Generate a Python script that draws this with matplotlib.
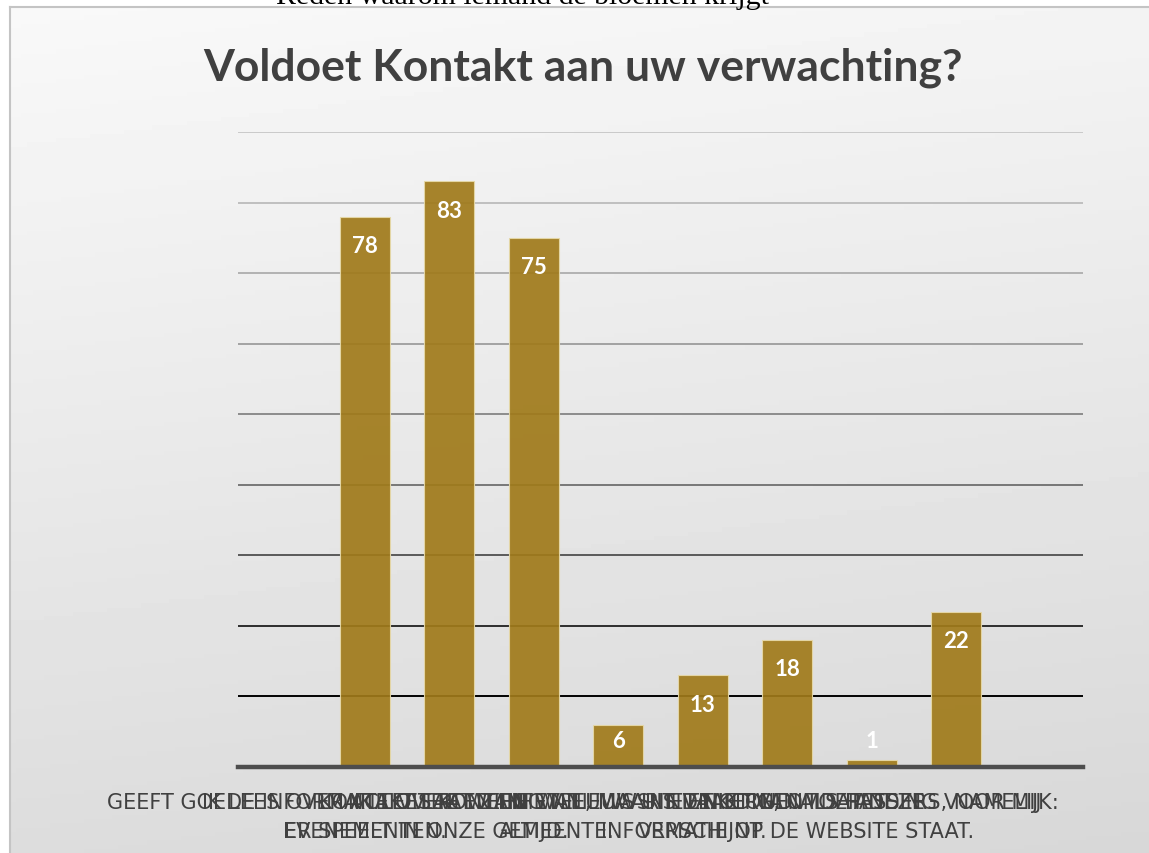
import matplotlib.pyplot as plt
import numpy as np
from matplotlib.lines import Line2D

# data
categories = [
    "GEEFT GOEDE INFORMATIE OVER",
    "IK LEES OVER ACTIVITEITEN EN\nEVENEMENTEN.",
    "KONTAKT LAAT ZIEN WAT\nER SPEELT IN ONZE GEMEENTE.",
    "IK LEES KONTAKT WEL, MAAR NIET\nALTIJD.",
    "TE WEINIG NIEUWS UIT DE KERNEN",
    "HET NIEUWS IS VAAK OUD ALS HET\nVERSCHIJNT.",
    "NIET NODIG, OMDAT DEZE\nINFORMATIE OP DE WEBSITE STAAT.",
    "NIET VAN TOEPASSING VOOR MIJ",
    "ANDERS, NAMELIJK:",
    "",
]
values = [None, 78, 83, 75, 6, 13, 18, 1, 22, None]
grid_levels = [10, 20, 30, 40, 50, 60, 70, 80, 90]
grid_colors = ['#000000', '#2e2e2e', '#5a5a5a', '#777777', '#8c8c8c',
               '#a2a2a2', '#b2b2b2', '#bfbfbf', '#c9c9c9']

title = "Voldoet Kontakt aan uw verwachting?"
top_text = "Reden waarom iemand de bloemen krijgt"

W, H = 1149, 854
fig = plt.figure(figsize=(W / 100, H / 100), dpi=100)
fig.patch.set_facecolor('white')

# gradient background of the chart area
bg = fig.add_axes([10 / W, 0, 1 - 10 / W, (H - 8) / H])
yy, xx = np.mgrid[0:1:200j, 0:1:200j]
grad = 0.975 - 0.13 * (0.85 * yy + 0.15 * xx)
bg.imshow(grad, cmap='gray', vmin=0, vmax=1, aspect='auto', extent=[0, 1, 0, 1])
bg.axis('off')

# frame
fig.add_artist(Line2D([9.5 / W, 9.5 / W], [0, 1 - 7.5 / H], color='#c4c4c4', lw=1.5))
fig.add_artist(Line2D([9.5 / W, 1], [1 - 7.5 / H, 1 - 7.5 / H], color='#c4c4c4', lw=1.5))

# clipped heading from the page above
fig.text(522 / W, 1 - 4 / H, top_text, family='Liberation Serif', fontsize=21.5,
         ha='center', va='baseline', color='black')

ax = fig.add_axes([238 / W, 1 - 768 / H, (1083 - 238) / W, (768 - 133) / H])
ax.patch.set_alpha(0)
for s in ax.spines.values():
    s.set_visible(False)

x = np.arange(len(categories))
ax.set_xlim(-0.5, len(categories) - 0.5)
ax.set_ylim(0, 90)

for lvl, c in zip(grid_levels, grid_colors):
    ax.axhline(lvl, color=c, lw=1.4, zorder=0)
ax.axhline(0, color='#4d4d4d', lw=3.2, zorder=4, clip_on=False)

vals = np.array([np.nan if v is None else v for v in values], dtype=float)
ax.bar(x, vals, width=0.59, color='#a07a1a', alpha=0.92,
       edgecolor='#e6d9a8', linewidth=0.8, zorder=2)

for xi, v in zip(x, values):
    if v is None:
        continue
    ax.text(xi, max(v - 4.1, 3.8), str(v), ha='center', va='center',
            color='white', fontsize=16, fontweight='bold', family='Lato', zorder=5)

ax.set_yticks([])
ax.set_xticks(x)
ax.set_xticklabels(categories, family='DejaVu Sans', fontsize=15, color='#404040',
                   linespacing=1.55)
ax.tick_params(axis='x', length=0, pad=18)

fig.text(583 / W, 1 - 68 / H, title, family='Lato', fontweight='bold',
         fontsize=32, color='#404040', ha='center', va='center')

fig.savefig('out.png', dpi=100)
